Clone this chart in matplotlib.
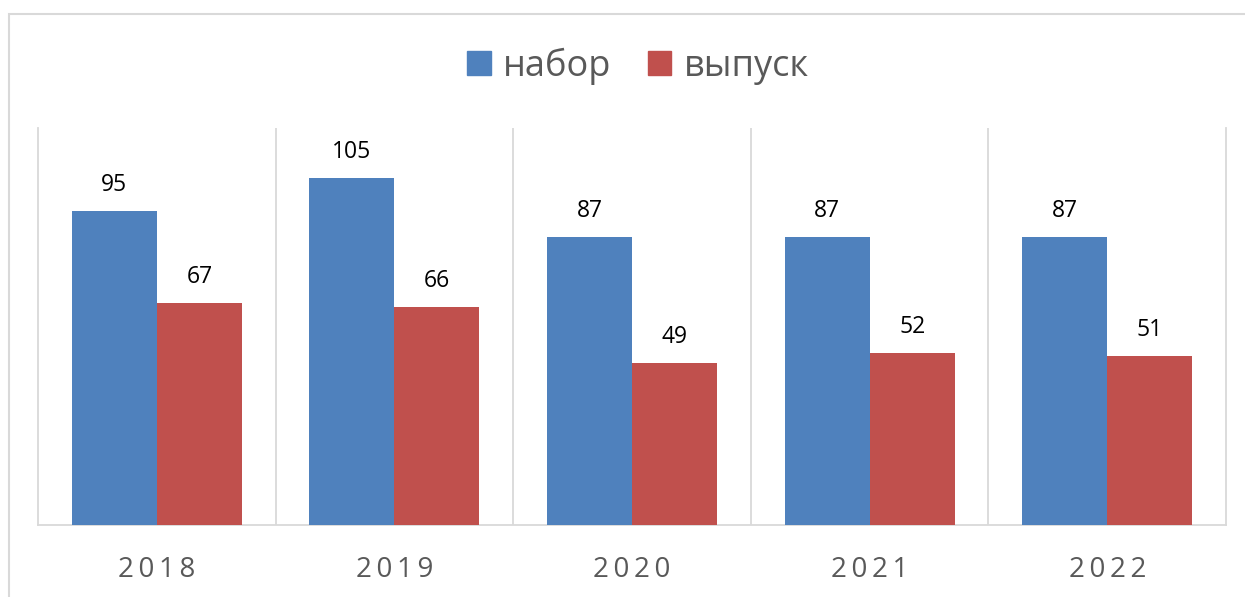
import matplotlib
matplotlib.use("Agg")
import matplotlib.pyplot as plt
from matplotlib.patches import Patch, Rectangle
import numpy as np

years = ["2018", "2019", "2020", "2021", "2022"]
nabor = [95, 105, 87, 87, 87]
vypusk = [67, 66, 49, 52, 51]
series_names = ["набор", "выпуск"]

BLUE = "#4F81BD"
RED = "#C0504D"
GRID = "#D9D9D9"
TXT = "#595959"
FONT = ["Open Sans", "DejaVu Sans"]

plt.rcParams["font.family"] = FONT

fig = plt.figure(figsize=(12.45, 5.97), dpi=100)
ax = fig.add_axes([38 / 1245, 1 - 525 / 597, (1226 - 38) / 1245, (525 - 128) / 597])

x = np.arange(len(years))
w = 0.358
b1 = ax.bar(x - w / 2, nabor, w, color=BLUE, zorder=3)
b2 = ax.bar(x + w / 2, vypusk, w, color=RED, zorder=3)

for bars, vals in ((b1, nabor), (b2, vypusk)):
    for r, v in zip(bars, vals):
        ax.annotate(str(v), (r.get_x() + r.get_width() / 2, r.get_height()),
                    xytext=(0, 10), textcoords="offset points",
                    ha="center", va="bottom", fontsize=16.5, color="black")

ax.set_xlim(-0.5, len(years) - 0.5)
ax.set_ylim(0, 120)
ax.set_yticks([])
ax.set_xticks(x)
ax.set_xticklabels(["\u2009".join(y) for y in years], fontsize=20, color=TXT)
ax.tick_params(axis="x", length=0, pad=22.5)
ax.set_xticks(np.arange(0.5, len(years) - 0.5, 1), minor=True)
ax.tick_params(axis="x", which="minor", length=0)
ax.grid(True, axis="x", which="minor", color=GRID, linewidth=1.3, zorder=0)
for s in ("left", "right", "bottom"):
    ax.spines[s].set_color(GRID)
    ax.spines[s].set_linewidth(1.3)
ax.spines["top"].set_visible(False)

fig.patches.append(Rectangle((9 / 1245, -0.2), 1.2, 1.2 + (1 - 14 / 597) - 1 + 0.0,
                             transform=fig.transFigure, fill=False,
                             edgecolor=GRID, linewidth=1.5))

handles = [Patch(color=BLUE), Patch(color=RED)]
leg = fig.legend(handles, series_names, loc="center",
                 bbox_to_anchor=(638 / 1245, 1 - 66 / 597), ncol=2, frameon=False,
                 fontsize=26, handlelength=0.65, handleheight=0.65,
                 handletextpad=0.35, columnspacing=1.0, borderpad=0)
for t in leg.get_texts():
    t.set_color(TXT)

fig.savefig("out.png", dpi=100)
